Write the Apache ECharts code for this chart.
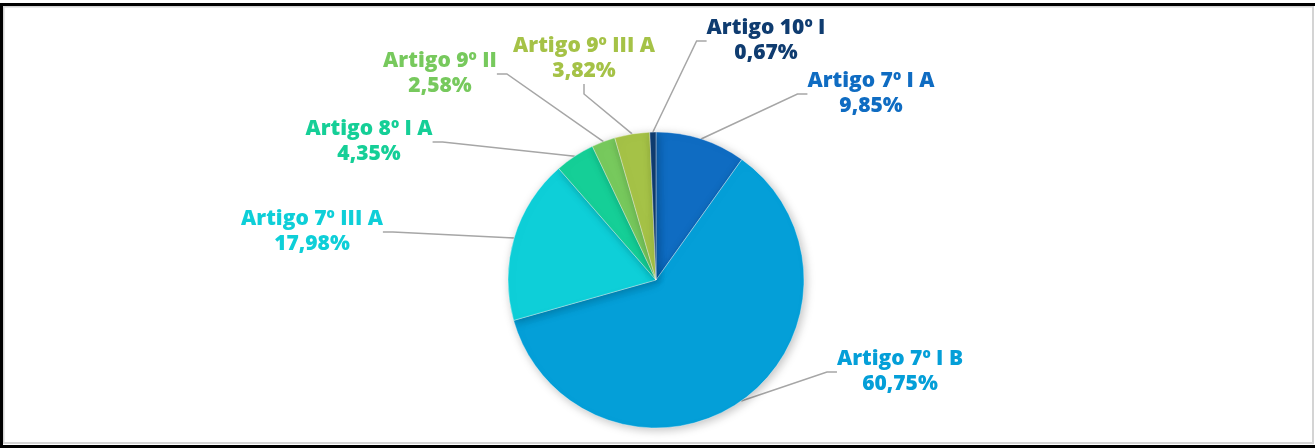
<!DOCTYPE html>
<html>
<head>
<meta charset="utf-8">
<script src="https://cdn.jsdelivr.net/npm/echarts@6/dist/echarts.min.js"></script>
<style>
html,body{margin:0;padding:0;background:#fff;}
#chart{width:1315px;height:448px;}
</style>
</head>
<body>
<div id="chart"></div>
<script>
const categories = ['Artigo 7º I A', 'Artigo 7º I B', 'Artigo 7º III A', 'Artigo 8º I A', 'Artigo 9º II', 'Artigo 9º III A', 'Artigo 10º I'];
const values = [9.85, 60.75, 17.98, 4.35, 2.58, 3.82, 0.67];
const colors = ['#0f6cc2', '#049fd8', '#0ecfd8', '#15cf97', '#77c95d', '#a5c247', '#0f3c70'];

// label anchor centres (layout only)
const labelCentres = [[871, 94], [900, 372], [312, 232], [369, 142], [440, 74], [584, 59], [766, 41]];

const chart = echarts.init(document.getElementById('chart'), null, {renderer: 'canvas'});
const option = {
  animation: false,
  backgroundColor: '#ffffff',
  graphic: [
    {type: 'rect', shape: {x: 3, y: 6, width: 1.5, height: 438}, style: {fill: '#d4d4d4'}, silent: true},
    {type: 'rect', shape: {x: 3, y: 6, width: 1310, height: 1.5}, style: {fill: '#d4d4d4'}, silent: true},
    {type: 'rect', shape: {x: 1312, y: 6, width: 2, height: 438}, style: {fill: '#d4d4d4'}, silent: true},
    {type: 'rect', shape: {x: 3, y: 442, width: 1311, height: 2}, style: {fill: '#d4d4d4'}, silent: true},
    {type: 'rect', shape: {x: 0, y: 3, width: 1315, height: 3}, style: {fill: '#000'}, silent: true},
    {type: 'rect', shape: {x: 0, y: 3, width: 3, height: 445}, style: {fill: '#000'}, silent: true},
    {type: 'rect', shape: {x: 0, y: 445, width: 1315, height: 3}, style: {fill: '#000'}, silent: true}
  ],
  series: [{
    type: 'pie',
    center: [656, 280],
    radius: 148,
    startAngle: 90,
    clockwise: true,
    data: categories.map((c, i) => ({
      name: c,
      value: values[i],
      itemStyle: {color: colors[i]},
      label: {color: colors[i]}
    })),
    itemStyle: {
      borderColor: 'rgba(255,255,255,0.6)',
      borderWidth: 0.6,
      shadowBlur: 10,
      shadowColor: 'rgba(0,0,0,0.25)',
      shadowOffsetX: 2,
      shadowOffsetY: 2
    },
    label: {
      show: true,
      fontFamily: 'Open Sans',
      fontWeight: 800,
      fontSize: 21,
      lineHeight: 25,
      align: 'center',
      formatter: p => p.name + '\n' + p.value.toFixed(2).replace('.', ',') + '%'
    },
    labelLine: {
      show: true,
      length: 10,
      length2: 10,
      lineStyle: {color: '#a6a6a6', width: 1.5}
    },
    labelLayout: function (params) {
      const c = labelCentres[params.dataIndex];
      return {x: c[0], y: c[1], align: 'center', verticalAlign: 'middle'};
    }
  }]
};
chart.setOption(option);
</script>
</body>
</html>
